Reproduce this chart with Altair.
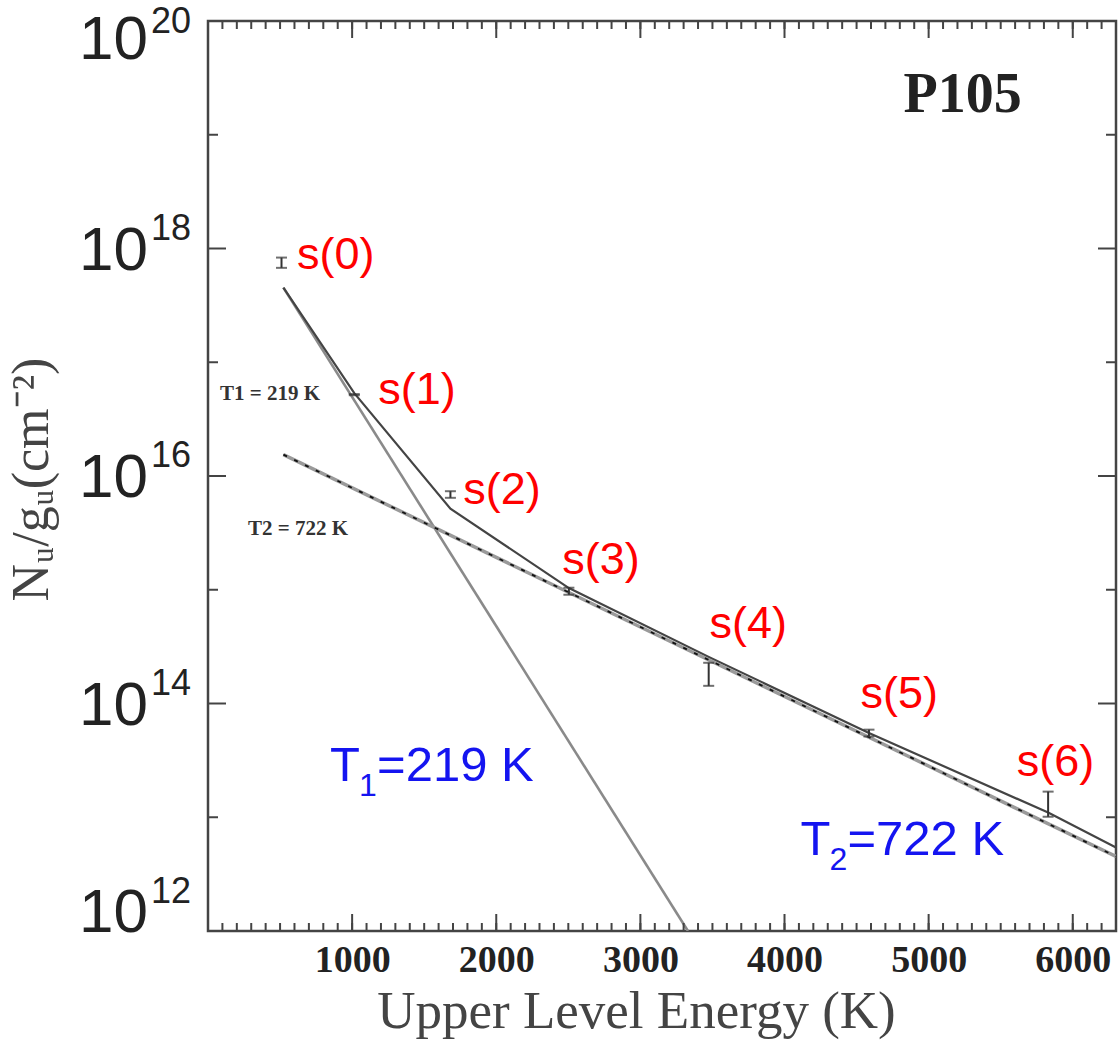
import altair as alt
import pandas as pd

# ---- data ----
levels = ["s(0)", "s(1)", "s(2)", "s(3)", "s(4)", "s(5)", "s(6)"]
energy = [510, 1015, 1682, 2504, 3474, 4586, 5829]
err_lo = [6.76e17, 5.13e16, 6.43e15, 9.04e14, 1.43e14, 5.13e13, 1.01e13]
err_hi = [8.32e17, 5.25e16, 7.35e15, 1.042e15, 2.28e14, 5.89e13, 1.68e13]

sum_E = [523, 1015, 1682, 2504, 3474, 4586, 5829, 6300]
sum_N = [4.53e17, 5.35e16, 5.16e15, 1.035e15, 2.57e14, 5.50e13, 1.10e13, 5.43e12]
t1_E = [523, 3330]
t1_N = [4.53e17, 1.0e12]
t2_E = [523, 6300]
t2_N = [1.54e16, 4.52e12]

label_E = [618, 1181, 1771, 2458, 3479, 4528, 5611]
label_N = [6.65e17, 4.33e16, 5.70e15, 1.38e15, 3.78e14, 9.16e13, 2.31e13]

fit_text = ["T1 = 219 K", "T2 = 722 K"]
fit_E = [83, 278]
fit_N = [4.69e16, 3.05e15]

blue_main = ["T", "T"]
blue_sub = ["1", "2"]
blue_rest = ["=219 K", "=722 K"]
blue_E = [847, 4111]
blue_N = [2.09e13, 4.70e12]

panel_text = ["P105"]
panel_E = [5236]
panel_N = [1.57e19]

# tick / label values
x_major = [1000, 2000, 3000, 4000, 5000, 6000]
x_minor = [v for v in range(100, 6300, 100)]
y_major = [1e14, 1e16, 1e18]
y_minor = [1e13, 1e15, 1e17, 1e19]
ylab_mid_vals = [1e14, 1e16, 1e18]
ylab_mid_exp = ["14", "16", "18"]
ylab_top_vals = [1e20]
ylab_top_exp = ["20"]
ylab_bot_vals = [1e12]
ylab_bot_exp = ["12"]

W, H = 908, 910
FRAME = "#444444"

X = alt.X("E:Q",
          scale=alt.Scale(domain=[0, 6300], nice=False, zero=False),
          axis=alt.Axis(values=x_major, format="d", ticks=False, domain=False, grid=False,
                        labelFont="Liberation Serif", labelFontWeight="bold",
                        labelFontSize=38, labelColor="#222222", labelPadding=10,
                        title="Upper Level Energy (K)", titleFont="Liberation Serif",
                        titleFontWeight="normal", titleFontSize=53, titleColor="#444444",
                        titleX=428, titleY=96, titleBaseline="alphabetic"))
Y = alt.Y("N:Q",
          scale=alt.Scale(type="log", domain=[1e12, 1e20], nice=False),
          axis=alt.Axis(values=[1e12, 1e20], labels=False,
                        ticks=False, domain=False, grid=False,
                        title="Nᵤ/gᵤ(cm⁻²)", titleFont="Liberation Serif",
                        titleFontWeight="normal", titleFontSize=52, titleColor="#444444",
                        titleX=-161, titleY=458, titleBaseline="alphabetic",
                        titleAlign="center"))

df_err = pd.DataFrame({"E": energy, "N": err_lo, "N2": err_hi, "lab": levels})
df_caps = pd.DataFrame({"E": energy + energy, "N": err_lo + err_hi})
df_sum = pd.DataFrame({"E": sum_E, "N": sum_N})
df_t1 = pd.DataFrame({"E": t1_E, "N": t1_N})
df_t2 = pd.DataFrame({"E": t2_E, "N": t2_N})
df_lab = pd.DataFrame({"E": label_E, "N": label_N, "text": levels})
df_fit = pd.DataFrame({"E": fit_E, "N": fit_N, "text": fit_text})
df_blue = pd.DataFrame({"E": blue_E, "N": blue_N, "m": blue_main, "s": blue_sub, "r": blue_rest})
df_panel = pd.DataFrame({"E": panel_E, "N": panel_N, "text": panel_text})

layers = []

t1_line = alt.Chart(df_t1).mark_line(color="#8a8a8a", strokeWidth=2.6, clip=True).encode(x=X, y=Y)
layers.append(t1_line)


def xticks(vals, length):
    d = pd.DataFrame({"E": vals})
    bot = alt.Chart(d).mark_rule(color=FRAME, strokeWidth=2).encode(
        x=X, y=alt.value(H), y2=alt.value(H - length))
    top = alt.Chart(d).mark_rule(color=FRAME, strokeWidth=2).encode(
        x=X, y=alt.value(0), y2=alt.value(length))
    return [bot, top]


def yticks(vals, length):
    d = pd.DataFrame({"N": vals})
    lft = alt.Chart(d).mark_rule(color=FRAME, strokeWidth=2).encode(
        y=Y, x=alt.value(0), x2=alt.value(length))
    rgt = alt.Chart(d).mark_rule(color=FRAME, strokeWidth=2).encode(
        y=Y, x=alt.value(W), x2=alt.value(W - length))
    return [lft, rgt]


layers += xticks(x_minor, 8) + xticks(x_major, 17)
layers += yticks(y_minor, 10) + yticks(y_major, 18)


# y tick labels: "10" plus superscript exponent
def ylabels(vals, exps, dy_base, dy_exp):
    d = pd.DataFrame({"N": vals, "exp": exps})
    base = alt.Chart(d).mark_text(align="right", baseline="alphabetic", font="Liberation Sans",
                                  fontSize=62, color="#222222", dy=dy_base).encode(
        y=Y, x=alt.value(-60), text=alt.value("10"))
    sup = alt.Chart(d).mark_text(align="left", baseline="alphabetic", font="Liberation Sans",
                                 fontSize=36, color="#222222", dy=dy_exp).encode(
        y=Y, x=alt.value(-57), text="exp:N")
    return [base, sup]


layers += ylabels(ylab_mid_vals, ylab_mid_exp, 21, -9)
layers += ylabels(ylab_top_vals, ylab_top_exp, 38, 12)
layers += ylabels(ylab_bot_vals, ylab_bot_exp, 1, -28)

t2_base = alt.Chart(df_t2).mark_line(color="#9a9a9a", strokeWidth=3.5, clip=True).encode(x=X, y=Y)
t2_dash = alt.Chart(df_t2).mark_line(color="#111111", strokeWidth=1.8, strokeDash=[4, 8], clip=True).encode(x=X, y=Y)
sum_line = alt.Chart(df_sum).mark_line(color="#444444", strokeWidth=2.2, clip=True).encode(x=X, y=Y)
layers += [t2_base, t2_dash, sum_line]

err_rule = alt.Chart(df_err).mark_rule(color="#333333", strokeWidth=2).encode(
    x=X, y=Y, y2=alt.Y2("N2:Q"))
err_caps = alt.Chart(df_caps).mark_tick(orient="horizontal", color="#333333", size=11, thickness=2).encode(
    x=X, y=Y)
layers += [err_rule, err_caps]

lab_text = alt.Chart(df_lab).mark_text(align="left", baseline="alphabetic", font="Liberation Sans",
                                       fontSize=45, color="#ff0000").encode(x=X, y=Y, text="text:N")
fit_lab = alt.Chart(df_fit).mark_text(align="left", baseline="alphabetic", font="Liberation Serif",
                                      fontWeight="bold", fontSize=21, color="#333333").encode(
    x=X, y=Y, text="text:N")
panel_lab = alt.Chart(df_panel).mark_text(align="center", baseline="alphabetic", font="Liberation Serif",
                                          fontWeight="bold", fontSize=56, color="#222222").encode(
    x=X, y=Y, text="text:N")
blue1 = alt.Chart(df_blue).mark_text(align="left", baseline="alphabetic", font="Liberation Sans",
                                     fontSize=49, color="#1414f0").encode(x=X, y=Y, text="m:N")
blue2 = alt.Chart(df_blue).mark_text(align="left", baseline="alphabetic", font="Liberation Sans",
                                     fontSize=32, color="#1414f0", dx=29, dy=15).encode(x=X, y=Y, text="s:N")
blue3 = alt.Chart(df_blue).mark_text(align="left", baseline="alphabetic", font="Liberation Sans",
                                     fontSize=49, color="#1414f0", dx=47).encode(x=X, y=Y, text="r:N")
layers += [lab_text, fit_lab, panel_lab, blue1, blue2, blue3]

chart = alt.layer(*layers).properties(
    width=W, height=H,
    padding={"left": 208, "top": 21, "right": 2, "bottom": 112},
    autosize=alt.AutoSizeParams(type="none"),
    background="white",
).configure_view(stroke=FRAME, strokeWidth=2.5)

chart.save("out.html", embed_options={"renderer": "svg", "actions": False})
